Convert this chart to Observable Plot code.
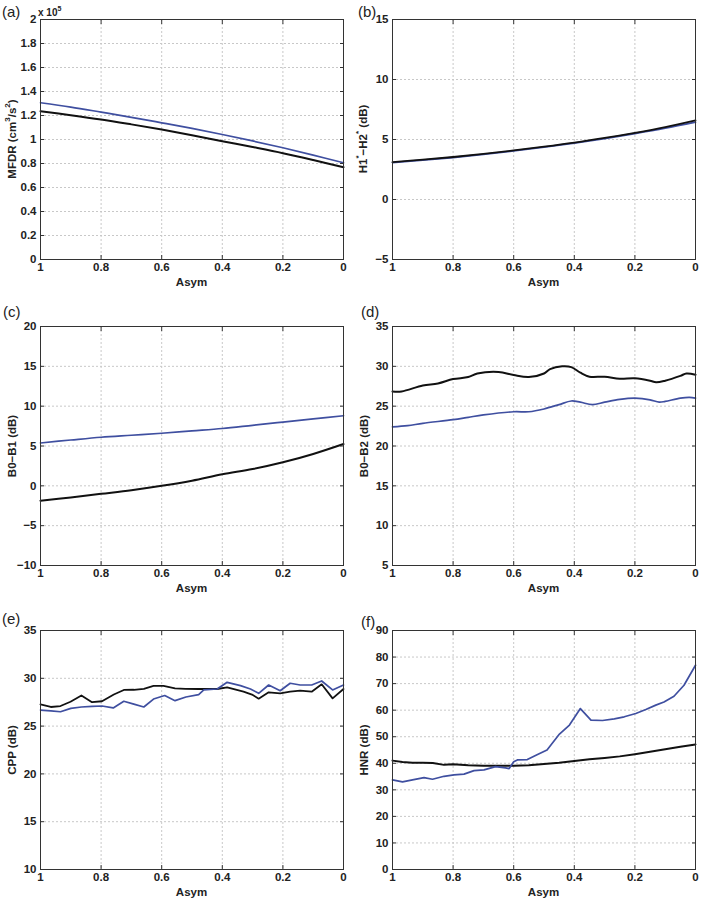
<!DOCTYPE html>
<html><head><meta charset="utf-8">
<script src="https://cdn.jsdelivr.net/npm/d3@7"></script>
<script src="https://cdn.jsdelivr.net/npm/@observablehq/plot@0.6"></script>
<style>
body{margin:0;background:#fff;}
#fig{position:relative;width:702px;height:900px;overflow:hidden;font-family:"Liberation Sans",Arial,sans-serif;color:#222;}
.p{position:absolute;}
.lab{position:absolute;font-weight:bold;font-size:11.5px;line-height:1;white-space:nowrap;transform:translate(-50%,-50%);}
.ylab{transform:translate(-50%,-50%) rotate(-90deg);}
.pl{position:absolute;font-size:15px;line-height:1;}
sup{font-size:70%;line-height:0;position:relative;top:-0.1em;}
</style></head>
<body><div id="fig"></div>
<script>
// ---- data ----
const xTicks = [1, 0.8, 0.6, 0.4, 0.2, 0];

// (a) MFDR (x 10^5 cm^3/s^2)
const mfdrAsym  = [1, 0.9, 0.8, 0.7, 0.6, 0.5, 0.4, 0.3, 0.2, 0.1, 0];
const mfdrBlue  = [1.306, 1.27, 1.228, 1.185, 1.139, 1.092, 1.042, 0.988, 0.931, 0.87, 0.806];
const mfdrBlack = [1.236, 1.203, 1.167, 1.126, 1.083, 1.036, 0.986, 0.937, 0.886, 0.829, 0.769];
const mfdrTicks = [0, 0.2, 0.4, 0.6, 0.8, 1, 1.2, 1.4, 1.6, 1.8, 2];

// (b) H1*-H2*
const h12Asym  = [1, 0.9, 0.8, 0.7, 0.6, 0.5, 0.4, 0.3, 0.2, 0.1, 0];
const h12Blue  = [3.08, 3.28, 3.5, 3.76, 4.05, 4.36, 4.7, 5.08, 5.5, 5.95, 6.45];
const h12Black = [3.12, 3.32, 3.54, 3.8, 4.09, 4.4, 4.74, 5.13, 5.56, 6.04, 6.6];
const h12Ticks = [-5, 0, 5, 10, 15];

// (c) B0-B1
const b01Asym  = [1, 0.9, 0.8, 0.7, 0.6, 0.5, 0.4, 0.3, 0.2, 0.1, 0];
const b01Blue  = [5.38, 5.75, 6.1, 6.35, 6.6, 6.9, 7.2, 7.6, 8.0, 8.4, 8.8];
const b01Black = [-1.86, -1.45, -1.0, -0.55, 0.0, 0.65, 1.45, 2.1, 2.95, 4.0, 5.25];
const b01Ticks = [-10, -5, 0, 5, 10, 15, 20];

// (d) B0-B2
const b02BlackAsym = [1, 0.97, 0.9, 0.85, 0.8, 0.75, 0.72, 0.65, 0.6, 0.55, 0.5, 0.48, 0.44, 0.41, 0.38, 0.35, 0.3, 0.25, 0.2, 0.15, 0.13, 0.1, 0.05, 0.03, 0];
const b02Black     = [26.85, 26.85, 27.6, 27.85, 28.4, 28.65, 29.1, 29.3, 28.9, 28.65, 29.1, 29.65, 30.0, 29.9, 29.2, 28.7, 28.7, 28.45, 28.5, 28.2, 28.0, 28.2, 28.8, 29.1, 28.95];
const b02BlueAsym  = [1, 0.95, 0.9, 0.8, 0.75, 0.7, 0.6, 0.55, 0.5, 0.45, 0.41, 0.38, 0.34, 0.3, 0.25, 0.2, 0.15, 0.12, 0.1, 0.05, 0.02, 0];
const b02Blue      = [22.4, 22.55, 22.85, 23.3, 23.6, 23.9, 24.3, 24.3, 24.65, 25.2, 25.65, 25.5, 25.2, 25.5, 25.85, 26.0, 25.8, 25.5, 25.6, 26.0, 26.1, 26.0];
const b02Ticks = [5, 10, 15, 20, 25, 30, 35];

// (e) CPP
const cppBlackAsym = [1, 0.966, 0.934, 0.901, 0.865, 0.83, 0.797, 0.758, 0.725, 0.692, 0.659, 0.627, 0.594, 0.556, 0.522, 0.478, 0.417, 0.384, 0.33, 0.302, 0.28, 0.247, 0.209, 0.176, 0.143, 0.105, 0.072, 0.036, 0];
const cppBlack     = [27.27, 27.0, 27.1, 27.55, 28.2, 27.5, 27.6, 28.3, 28.78, 28.8, 28.9, 29.2, 29.2, 28.95, 28.9, 28.88, 28.88, 29.05, 28.6, 28.3, 27.87, 28.53, 28.43, 28.6, 28.7, 28.6, 29.37, 27.9, 28.88];
const cppBlueAsym  = [1, 0.966, 0.934, 0.9, 0.865, 0.83, 0.797, 0.76, 0.725, 0.692, 0.659, 0.627, 0.59, 0.556, 0.52, 0.478, 0.461, 0.417, 0.384, 0.34, 0.307, 0.28, 0.247, 0.209, 0.176, 0.143, 0.105, 0.072, 0.036, 0];
const cppBlue      = [26.68, 26.6, 26.5, 26.85, 27.0, 27.06, 27.1, 26.9, 27.6, 27.3, 27.0, 27.83, 28.2, 27.66, 28.04, 28.3, 28.78, 28.88, 29.58, 29.23, 28.88, 28.43, 29.3, 28.7, 29.48, 29.3, 29.3, 29.72, 28.78, 29.3];
const cppTicks = [10, 15, 20, 25, 30, 35];

// (f) HNR
const hnrBlackAsym = [1, 0.967, 0.934, 0.9, 0.867, 0.83, 0.8, 0.75, 0.7, 0.65, 0.6, 0.55, 0.5, 0.45, 0.4, 0.35, 0.3, 0.25, 0.2, 0.15, 0.1, 0.05, 0];
const hnrBlack     = [41.0, 40.5, 40.2, 40.2, 40.1, 39.4, 39.6, 39.25, 39.1, 39.1, 39.1, 39.3, 39.7, 40.2, 40.9, 41.5, 42.0, 42.6, 43.4, 44.3, 45.3, 46.2, 47.1];
const hnrBlueAsym  = [1, 0.967, 0.934, 0.896, 0.868, 0.83, 0.797, 0.764, 0.731, 0.698, 0.66, 0.627, 0.615, 0.6, 0.588, 0.555, 0.523, 0.49, 0.449, 0.416, 0.38, 0.345, 0.307, 0.268, 0.235, 0.197, 0.164, 0.131, 0.104, 0.071, 0.038, 0];
const hnrBlue      = [33.75, 33.0, 33.75, 34.6, 34.0, 35.1, 35.6, 35.9, 37.25, 37.5, 38.75, 38.25, 38.0, 40.6, 41.25, 41.4, 43.2, 45.0, 51.0, 54.4, 60.6, 56.25, 56.1, 56.75, 57.5, 58.75, 60.25, 61.9, 63.1, 65.25, 69.4, 76.9];
const hnrTicks = [0, 10, 20, 30, 40, 50, 60, 70, 80, 90];

// ---- rendering ----
const BLUE = "#3f4fa0", BLACK = "#111";
const fig = document.getElementById("fig");
const fmtDec = d => String(+d.toFixed(1));
const fmtInt = d => String(d).replace("-", "\u2212");

const cols = [{left: 0, ml: 40, mr: 8}, {left: 351, ml: 41, mr: 7}];
const rows = [{top: 0, mt: 19, mb: 41}, {top: 300, mt: 26, mb: 35}, {top: 600, mt: 30, mb: 31}];

const panels = [
  {tag: "(a)", c: 0, r: 0, yt: mfdrTicks, fmt: fmtDec, curve: "catmull-rom",
   ylabel: "MFDR (cm<sup>3</sup>/s<sup>2</sup>)", ylx: 12.5,
   series: [[mfdrAsym, mfdrBlack, BLACK, 2], [mfdrAsym, mfdrBlue, BLUE, 1.7]]},
  {tag: "(b)", c: 1, r: 0, yt: h12Ticks, fmt: fmtInt, curve: "catmull-rom",
   ylabel: "H1<sup>*</sup>\u2212H2<sup>*</sup> (dB)", ylx: 363.5,
   series: [[h12Asym, h12Blue, BLUE, 1.8], [h12Asym, h12Black, BLACK, 1.8]]},
  {tag: "(c)", c: 0, r: 1, yt: b01Ticks, fmt: fmtInt, curve: "catmull-rom",
   ylabel: "B0\u2212B1 (dB)", ylx: 13,
   series: [[b01Asym, b01Black, BLACK, 2], [b01Asym, b01Blue, BLUE, 1.7]]},
  {tag: "(d)", c: 1, r: 1, yt: b02Ticks, fmt: fmtInt, curve: "catmull-rom",
   ylabel: "B0\u2212B2 (dB)", ylx: 365,
   series: [[b02BlackAsym, b02Black, BLACK, 2], [b02BlueAsym, b02Blue, BLUE, 1.7]]},
  {tag: "(e)", c: 0, r: 2, yt: cppTicks, fmt: fmtInt, curve: "linear",
   ylabel: "CPP (dB)", ylx: 13,
   series: [[cppBlackAsym, cppBlack, BLACK, 1.8], [cppBlueAsym, cppBlue, BLUE, 1.7]]},
  {tag: "(f)", c: 1, r: 2, yt: hnrTicks, fmt: fmtInt, curve: "linear",
   ylabel: "HNR (dB)", ylx: 364.5,
   series: [[hnrBlackAsym, hnrBlack, BLACK, 2], [hnrBlueAsym, hnrBlue, BLUE, 1.7]]}
];

const tagPos = {"(a)": [2, 4], "(b)": [358, 4], "(c)": [3, 304], "(d)": [361, 304], "(e)": [2, 611], "(f)": [361, 614]};

const grid = {stroke: "#c8c8c8", strokeOpacity: 1, strokeDasharray: "2,2", strokeWidth: 1};

for (const p of panels) {
  const col = cols[p.c], row = rows[p.r];
  const ydomain = [p.yt[0], p.yt[p.yt.length - 1]];
  const marks = [
    Plot.gridX(xTicks, grid),
    Plot.gridY(p.yt, grid),
    ...p.series.map(([xs, ys, color, w]) =>
      Plot.line(ys, {x: xs, y: ys, stroke: color, strokeWidth: w, curve: p.curve})),
    Plot.frame({stroke: "#333", strokeWidth: 1}),
    Plot.axisX(xTicks, {tickSize: 0, tickPadding: 3, tickFormat: fmtDec, label: null}),
    Plot.axisX(xTicks, {tickSize: 4, dy: -4, fill: "none", label: null, stroke: "#333"}),
    Plot.axisX(xTicks, {anchor: "top", tickSize: 4, dy: 4, fill: "none", label: null, stroke: "#333"}),
    Plot.axisY(p.yt, {tickSize: 0, tickPadding: 4, tickFormat: p.fmt, label: null}),
    Plot.axisY(p.yt, {tickSize: 4, dx: 4, fill: "none", label: null, stroke: "#333"}),
    Plot.axisY(p.yt, {anchor: "right", tickSize: 4, dx: -4, fill: "none", label: null, stroke: "#333"})
  ];
  const chart = Plot.plot({
    width: 351, height: 300,
    marginLeft: col.ml, marginRight: col.mr, marginTop: row.mt, marginBottom: row.mb,
    style: {fontFamily: "'Liberation Sans', Arial, sans-serif", fontSize: "11.5px", fontWeight: "bold", color: "#222", background: "transparent", overflow: "visible"},
    x: {domain: [1, 0]},
    y: {domain: ydomain},
    marks
  });
  chart.classList.add("p");
  chart.style.left = col.left + "px";
  chart.style.top = row.top + "px";
  fig.appendChild(chart);

  // x label
  const xl = document.createElement("div");
  xl.className = "lab";
  xl.textContent = "Asym";
  xl.style.left = (col.left + col.ml + (351 - col.ml - col.mr) / 2) + "px";
  xl.style.top = (row.top + 300 - row.mb + 24) + "px";
  fig.appendChild(xl);

  // y label
  const yl = document.createElement("div");
  yl.className = "lab ylab";
  yl.innerHTML = p.ylabel;
  yl.style.left = p.ylx + "px";
  yl.style.top = (row.top + row.mt + (300 - row.mt - row.mb) / 2) + "px";
  fig.appendChild(yl);

  // panel tag
  const t = document.createElement("div");
  t.className = "pl";
  t.textContent = p.tag;
  t.style.left = tagPos[p.tag][0] + "px";
  t.style.top = tagPos[p.tag][1] + "px";
  fig.appendChild(t);
}

// exponent note for panel (a)
const ex = document.createElement("div");
ex.style.cssText = "position:absolute;left:38px;top:8px;font-size:10px;font-weight:bold;line-height:1;";
ex.innerHTML = "x 10<sup>5</sup>";
fig.appendChild(ex);
</script>
</body></html>
